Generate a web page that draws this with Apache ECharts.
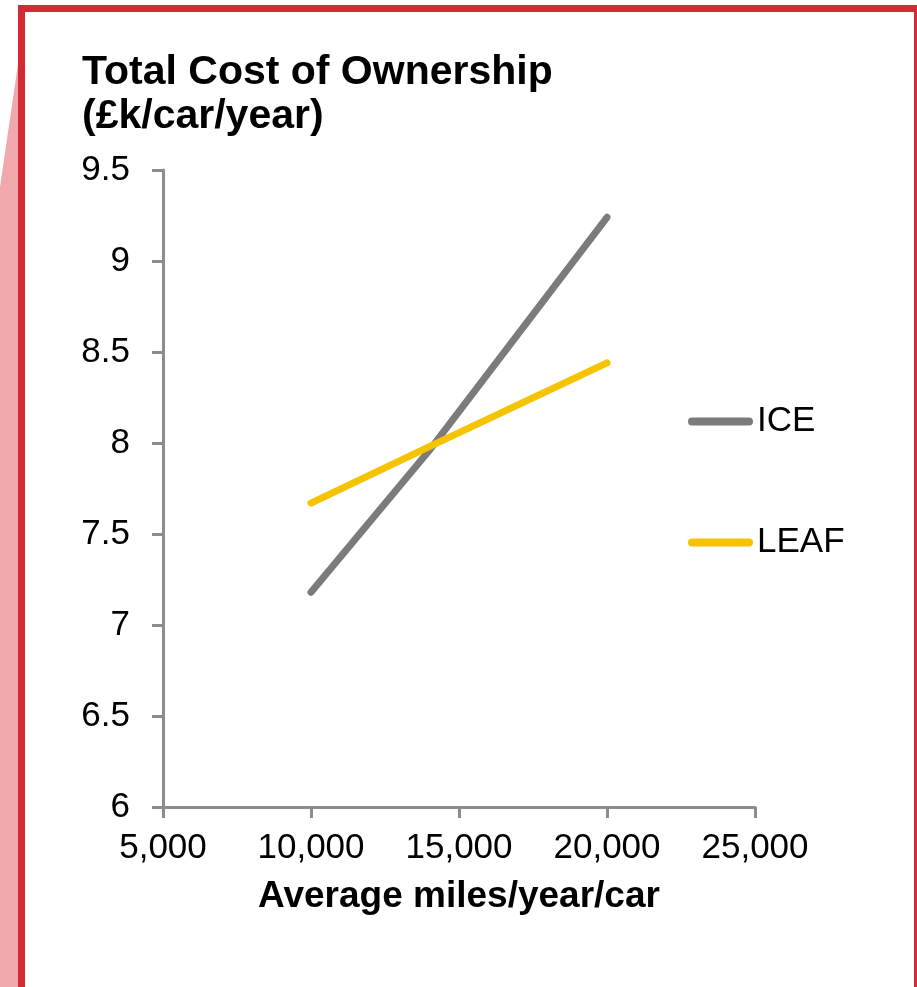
<!DOCTYPE html>
<html>
<head>
<meta charset="utf-8">
<script src="https://cdn.jsdelivr.net/npm/echarts@6/dist/echarts.min.js"></script>
<style>
html,body{margin:0;padding:0;background:#fff;}
#c{width:917px;height:987px;}
</style>
</head>
<body>
<div id="c"></div>
<script>
const miles = [10000, 14000, 20000];
const ice = [7.18, 7.96, 9.24];
const leaf = [7.67, 7.98, 8.44];
const yTicks = [6, 6.5, 7, 7.5, 8, 8.5, 9, 9.5];
const xTicks = [5000, 10000, 15000, 20000, 25000];
const seriesNames = ['ICE', 'LEAF'];

const FONT = '"Liberation Sans", Arial, sans-serif';
const chart = echarts.init(document.getElementById('c'), null, {renderer: 'canvas'});
const pill = 'path://M4,0 H61 A4,4 0 0 1 61,8 H4 A4,4 0 0 1 4,0 Z';

chart.setOption({
  animation: false,
  backgroundColor: '#fff',
  graphic: [
    {type: 'polygon', z: 0, shape: {points: [[18,64],[18,987],[0,987],[0,187]]}, style: {fill: '#f0a8ad'}},
    {type: 'rect', z: 1, shape: {x: 21.5, y: 8.5, width: 900, height: 1000}, style: {fill: 'none', stroke: '#d42a33', lineWidth: 7}},
    {type: 'rect', z: 1, shape: {x: 914, y: 5, width: 10, height: 990}, style: {fill: '#d42a33'}},
    {type: 'text', z: 5, left: 82, top: 51, style: {text: 'Total Cost of Ownership\n(£k/car/year)', font: 'bold 41px ' + FONT, fill: '#000', lineHeight: 44}}
  ],
  grid: {left: 163, right: 162, top: 170, bottom: 180, containLabel: false},
  legend: {
    orient: 'vertical', left: 683, top: 399, itemGap: 86,
    itemWidth: 65, itemHeight: 8, icon: pill,
    textStyle: {fontFamily: FONT, fontSize: 35, color: '#000', padding: [0,0,0,-1]},
    data: seriesNames
  },
  xAxis: {
    type: 'value', min: xTicks[0], max: xTicks[xTicks.length-1], interval: 5000,
    name: 'Average miles/year/car', nameLocation: 'middle', nameGap: 71,
    nameTextStyle: {fontFamily: FONT, fontSize: 37, fontWeight: 'bold', color: '#000'},
    axisLine: {lineStyle: {color: '#8c8c8c', width: 3}},
    axisTick: {show: true, length: 11, lineStyle: {color: '#8c8c8c', width: 3}},
    axisLabel: {fontFamily: FONT, fontSize: 35, color: '#000', margin: 24,
      formatter: v => v.toLocaleString('en-GB')},
    splitLine: {show: false}
  },
  yAxis: {
    type: 'value', min: yTicks[0], max: yTicks[yTicks.length-1], interval: 0.5,
    axisLine: {show: true, lineStyle: {color: '#8c8c8c', width: 3}},
    axisTick: {show: true, length: 11, lineStyle: {color: '#8c8c8c', width: 3}},
    axisLabel: {fontFamily: FONT, fontSize: 35, color: '#000', margin: 33},
    splitLine: {show: false}
  },
  series: [
    {name: seriesNames[0], type: 'line', symbol: 'none', color: '#7b7b7b',
     lineStyle: {width: 7, cap: 'round', join: 'round', color: '#7b7b7b'},
     data: miles.map((m, i) => [m, ice[i]])},
    {name: seriesNames[1], type: 'line', symbol: 'none', color: '#f5c300',
     lineStyle: {width: 7, cap: 'round', join: 'round', color: '#f5c300'},
     data: miles.map((m, i) => [m, leaf[i]])}
  ]
});
</script>
</body>
</html>
